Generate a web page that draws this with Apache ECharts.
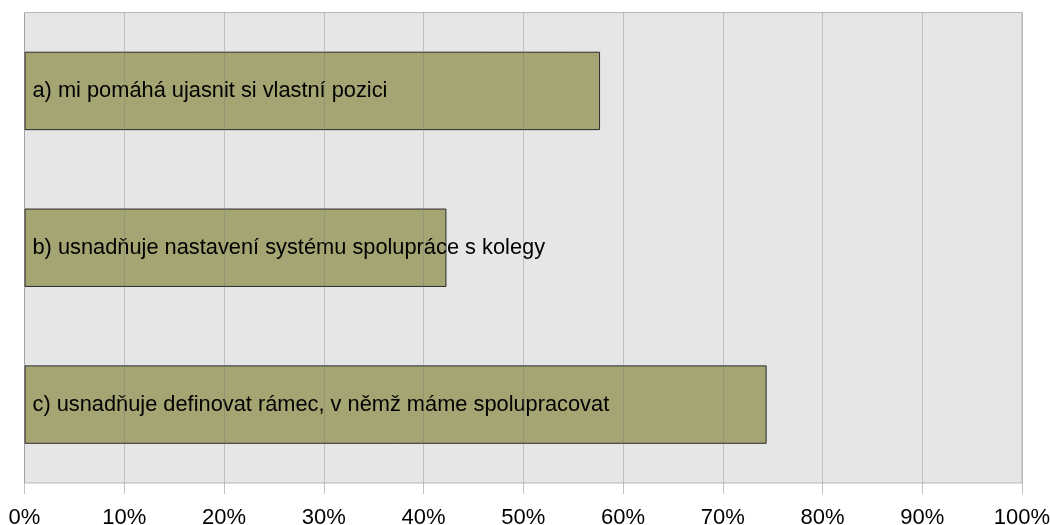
<!DOCTYPE html>
<html>
<head>
<meta charset="utf-8">
<script src="https://cdn.jsdelivr.net/npm/echarts@6/dist/echarts.min.js"></script>
<style>html,body{margin:0;padding:0;background:#fff}#c{width:1050px;height:525px}</style>
</head>
<body>
<div id="c"></div>
<script>
var categories = ['a) mi pomáhá ujasnit si vlastní pozici', 'b) usnadňuje nastavení systému spolupráce s kolegy', 'c) usnadňuje definovat rámec, v němž máme spolupracovat'];
var values = [57.7, 42.3, 74.4];
var chart = echarts.init(document.getElementById('c'));
chart.setOption({
  animation: false,
  grid: {left: 24.5, right: 28, top: 12.5, bottom: 42, outerBoundsMode: 'none', containLabel: false, show: true, backgroundColor: '#e6e6e6', borderColor: '#b8b8b8', borderWidth: 1},
  xAxis: {
    type: 'value', min: 0, max: 100, interval: 10, z: 3,
    axisLine: {show: false},
    axisTick: {show: true, length: 11, lineStyle: {color: '#c0c0c0'}},
    splitLine: {show: true, lineStyle: {color: 'rgba(120,120,120,0.35)', width: 1}},
    axisLabel: {formatter: '{value}%', fontFamily: 'Liberation Sans', fontSize: 22, color: '#000', margin: 24}
  },
  yAxis: {
    type: 'category', data: categories, inverse: true,
    axisLine: {show: false}, axisTick: {show: false}, axisLabel: {show: false}, splitLine: {show: false}
  },
  series: [{
    type: 'bar', data: values, barWidth: '50%',
    itemStyle: {color: '#a5a573', borderColor: '#2a2a2a', borderWidth: 1},
    label: {show: true, position: 'insideLeft', distance: 8, formatter: function(p){return p.name;}, fontFamily: 'Liberation Sans', fontSize: 21.8, color: '#000'}
  }]
});
</script>
</body>
</html>
